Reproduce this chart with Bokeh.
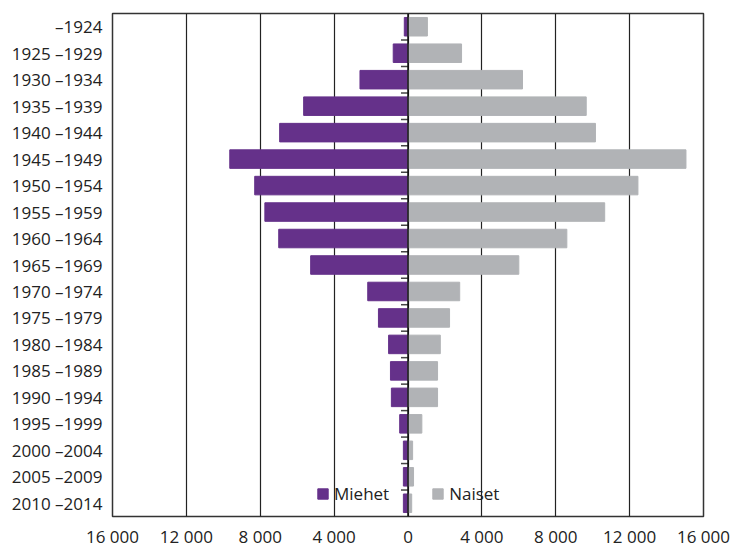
from bokeh.plotting import figure
from bokeh.models import ColumnDataSource, Range1d, FixedTicker, Span, Legend, LegendItem, GlobalInlineStyleSheet
from bokeh.embed import file_html
from bokeh.resources import INLINE

# ---- data ----
groups = ["\u20131924", "1925 \u20131929", "1930 \u20131934", "1935 \u20131939", "1940 \u20131944",
          "1945 \u20131949", "1950 \u20131954", "1955 \u20131959", "1960 \u20131964", "1965 \u20131969",
          "1970 \u20131974", "1975 \u20131979", "1980 \u20131984", "1985 \u20131989", "1990 \u20131994",
          "1995 \u20131999", "2000 \u20132004", "2005 \u20132009", "2010 \u20132014"]
miehet = [200, 800, 2600, 5650, 6950, 9650, 8300, 7750, 7000, 5270,
          2180, 1600, 1050, 950, 900, 450, 250, 250, 250]
naiset = [1050, 2900, 6200, 9650, 10150, 15050, 12450, 10650, 8600, 6000,
          2800, 2250, 1750, 1600, 1600, 750, 250, 300, 200]
x_ticks = [-16000, -12000, -8000, -4000, 0, 4000, 8000, 12000, 16000]
x_tick_labels = ["16 000", "12 000", "8 000", "4 000", "0", "4 000", "8 000", "12 000", "16 000"]

PURPLE = "#65318a"
GRAY = "#b1b3b6"
FONT = "Open Sans"
FS = "17px"

n = len(groups)
idx = list(range(n))
src = ColumnDataSource(dict(
    y=idx,
    m_left=[-v for v in miehet],
    zero=[0] * n,
    f_right=naiset,
))

p = figure(width=730, height=550, output_backend="svg", toolbar_location=None,
           x_range=Range1d(-16000, 16000), y_range=Range1d(n - 0.5, -0.5),
           min_border_left=112, min_border_right=27, min_border_top=13, min_border_bottom=31)
p.stylesheets = [GlobalInlineStyleSheet(css="html, body { overflow: hidden; }")]

r_m = p.hbar(y="y", left="m_left", right="zero", height=0.7, color=PURPLE, source=src)
r_f = p.hbar(y="y", left="zero", right="f_right", height=0.7, color=GRAY, source=src)

# small boundary ticks on the zero line
bnd = [i + 0.5 for i in range(n - 1)]
p.segment(x0=[-380] * len(bnd), x1=[0] * len(bnd), y0=bnd, y1=bnd,
          line_color="#444444", line_width=1.5)

p.add_layout(Span(location=0, dimension="height", line_color="#111111", line_width=1.5, level="overlay"))

# axes
p.xaxis.ticker = FixedTicker(ticks=x_ticks)
p.xaxis.major_label_overrides = {t: l for t, l in zip(x_ticks, x_tick_labels)}
p.xaxis.major_tick_line_color = None
p.xaxis.major_tick_out = 0
p.xaxis.major_tick_in = 0
p.xaxis.minor_tick_line_color = None
p.xaxis.axis_line_color = None
p.xaxis.major_label_standoff = 8
p.xaxis.major_label_text_font = FONT
p.xaxis.major_label_text_font_size = FS
p.xaxis.major_label_text_color = "#222222"

p.yaxis.ticker = FixedTicker(ticks=idx)
p.yaxis.major_label_overrides = {i: g for i, g in enumerate(groups)}
p.yaxis.major_tick_line_color = None
p.yaxis.major_tick_out = 0
p.yaxis.major_tick_in = 0
p.yaxis.minor_tick_line_color = None
p.yaxis.axis_line_color = None
p.yaxis.major_label_standoff = 10
p.yaxis.major_label_text_font = FONT
p.yaxis.major_label_text_font_size = FS
p.yaxis.major_label_text_color = "#222222"

p.xgrid.ticker = FixedTicker(ticks=x_ticks)
p.xgrid.grid_line_color = "#222222"
p.xgrid.grid_line_width = 1.2
p.ygrid.grid_line_color = None

p.outline_line_color = "#333333"
p.outline_line_width = 1.5

legend = Legend(items=[LegendItem(label="Miehet", renderers=[r_m]),
                       LegendItem(label="Naiset", renderers=[r_f])],
                orientation="horizontal", location=(204, 11),
                glyph_width=13, glyph_height=13, label_height=13, label_standoff=5,
                spacing=42, padding=0, margin=0,
                background_fill_alpha=0, border_line_color=None,
                label_text_font=FONT, label_text_font_size=FS, label_text_color="#222222")
p.add_layout(legend, "center")

open("out.html", "w").write(file_html(p, INLINE))
